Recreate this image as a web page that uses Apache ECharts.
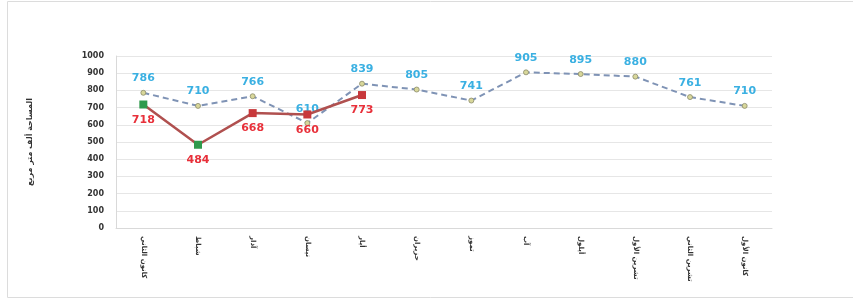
<!DOCTYPE html>
<html><head><meta charset="utf-8">
<script src="https://cdn.jsdelivr.net/npm/echarts@6/dist/echarts.min.js"></script>
<style>html,body{margin:0;padding:0;background:#fff}#c{width:853px;height:300px}</style>
</head><body><div id="c"></div>
<script>
const categories = ['كانون الثاني','شباط','آذار','نيسان','أيار','حزيران','تموز','آب','أيلول','تشرين الأول','تشرين الثاني','كانون الأول'];
const seriesA = [786, 710, 766, 610, 839, 805, 741, 905, 895, 880, 761, 710];
const seriesB = [718, 484, 668, 660, 773];
const yTicks = [0, 1000, 100];
const yTitle = 'المساحة ألف متر مربع';

const chart = echarts.init(document.getElementById('c'));
const bColors = ['#2f9a4c', '#2f9a4c', '#c8383b', '#c8383b', '#c8383b'];
const bPos = ['bottom','bottom','bottom','bottom','bottom'];
chart.setOption({
  animation: false,
  graphic: [{type:'rect', shape:{x:7.5, y:1.5, width:850, height:296}, style:{fill:'none', stroke:'#dcdcdc', lineWidth:1}}],
  grid: {left: 116, right: 81, top: 56, bottom: 72},
  xAxis: {
    type: 'category', data: categories, boundaryGap: true,
    axisLine: {lineStyle: {color: '#d9d9d9'}}, axisTick: {show: false},
    axisLabel: {rotate: -90, color: '#333', fontSize: 7, fontWeight: 'bold', fontFamily: 'DejaVu Sans', margin: 8}
  },
  yAxis: {
    type: 'value', min: yTicks[0], max: yTicks[1], interval: yTicks[2],
    name: yTitle, nameLocation: 'middle', nameGap: 82, nameRotate: 90,
    nameTextStyle: {color: '#333', fontSize: 8, fontWeight: 'bold', fontFamily: 'DejaVu Sans'},
    axisLine: {show: true, lineStyle: {color: '#d9d9d9'}}, axisTick: {show: false},
    splitLine: {lineStyle: {color: '#e6e6e6'}},
    axisLabel: {color: '#333', fontSize: 8, fontWeight: 'bold', fontFamily: 'DejaVu Sans', margin: 12, formatter: v => String(v)}
  },
  series: [
    {
      type: 'line', data: seriesA, symbol: 'circle', symbolSize: 5, z: 2,
      lineStyle: {color: '#7f93b5', width: 2, type: [6, 4]},
      itemStyle: {color: '#d8d79a', borderColor: '#8a8a6a', borderWidth: 0.8},
      label: {show: true, position: 'top', distance: 6, color: '#3ab0e2', fontSize: 11, fontWeight: 'bold', fontFamily: 'DejaVu Sans'}
    },
    {
      type: 'line', data: seriesB.map((v, i) => ({value: v, itemStyle: {color: bColors[i]}, label: {position: bPos[i]}})),
      symbol: 'rect', symbolSize: 8, z: 3,
      lineStyle: {color: '#b0504f', width: 2.5},
      label: {show: true, distance: 6, color: '#e8303a', fontSize: 11, fontWeight: 'bold', fontFamily: 'DejaVu Sans'}
    }
  ]
});
</script></body></html>
